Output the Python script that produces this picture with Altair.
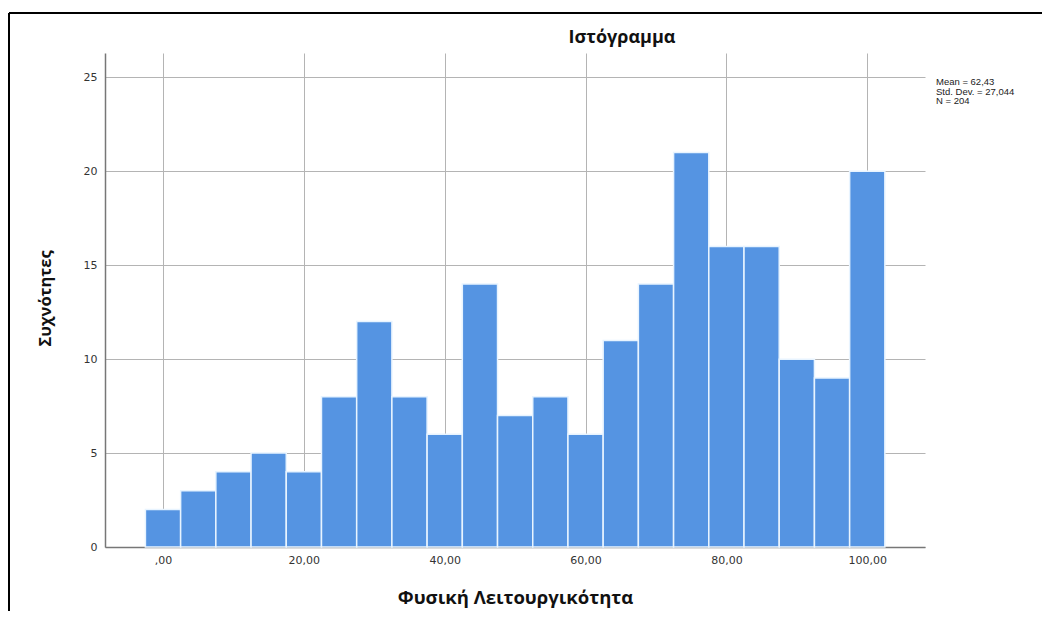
import altair as alt
import pandas as pd

# Histogram data (bin centers, counts)
bin_centers = [0, 5, 10, 15, 20, 25, 30, 35, 40, 45, 50, 55, 60, 65, 70, 75, 80, 85, 90, 95, 100]
counts = [2, 3, 4, 5, 4, 8, 12, 8, 6, 14, 7, 8, 6, 11, 14, 21, 16, 16, 10, 9, 20]
bin_width = 5

x_ticks = [0, 20, 40, 60, 80, 100]
y_ticks = [0, 5, 10, 15, 20, 25]
stats_lines = ["Mean = 62,43", "Std. Dev. = 27,044", "N = 204"]

df = pd.DataFrame({
    "start": [c - bin_width / 2 for c in bin_centers],
    "end": [c + bin_width / 2 for c in bin_centers],
    "count": counts,
    "zero": [0] * len(counts),
})

W, H = 820, 494
x_scale = alt.Scale(domain=[-8.24, 108.2], nice=False, zero=False)
y_scale = alt.Scale(domain=[0, 26.3], nice=False)

label_expr = "datum.value == 0 ? ',00' : replace(format(datum.value, '.2f'), '.', ',')"

bars = alt.Chart(df).mark_bar(
    color="#5594e2", stroke="#e8f4ff", strokeWidth=1.5
).encode(
    x=alt.X("start:Q", scale=x_scale,
            axis=alt.Axis(values=x_ticks, labelExpr=label_expr, grid=True, ticks=False,
                          domainColor="#777777", domainWidth=1.5, gridColor="#b4b4b4",
                          labelFont="DejaVu Sans", labelFontSize=11, labelColor="#333333",
                          labelPadding=7,
                          title="Φυσική Λειτουργικότητα", titleFont="Open Sans",
                          titleFontSize=18.5, titleFontWeight="bold", titleColor="#111111",
                          titleX=410, titleY=50, titleBaseline="middle", titleAnchor="middle")),
    x2="end:Q",
    y=alt.Y("count:Q", scale=y_scale,
            axis=alt.Axis(values=y_ticks, grid=True, ticks=False,
                          domainColor="#777777", domainWidth=1.5, gridColor="#b4b4b4",
                          labelFont="DejaVu Sans", labelFontSize=11, labelColor="#333333",
                          labelPadding=8,
                          title="Συχνότητες", titleFont="Open Sans", titleFontSize=16.5,
                          titleFontWeight="bold", titleColor="#111111",
                          titleAngle=270, titleX=-60, titleY=245,
                          titleBaseline="middle", titleAnchor="middle")),
    y2="zero:Q",
)

title_df = pd.DataFrame({"t": ["Ιστόγραμμα"]})
title = alt.Chart(title_df).mark_text(
    font="Open Sans", fontSize=18, fontWeight="bold", color="#111111", align="center", baseline="middle"
).encode(x=alt.value(517), y=alt.value(-15), text="t:N")

stats_df = pd.DataFrame({"t": ["\n".join(stats_lines)]})
stats = alt.Chart(stats_df).mark_text(
    font="Liberation Sans", fontSize=9.5, color="#222222", align="left", baseline="top",
    lineBreak="\n", lineHeight=9.5
).encode(x=alt.value(831), y=alt.value(24), text="t:N")

border_top = alt.Chart(title_df).mark_rule(color="#000000", strokeWidth=2).encode(
    x=alt.value(-96), x2=alt.value(960), y=alt.value(-40))
border_left = alt.Chart(title_df).mark_rule(color="#000000", strokeWidth=2).encode(
    x=alt.value(-96), y=alt.value(-40), y2=alt.value(564))

chart = alt.layer(bars, title, stats, border_top, border_left).properties(
    width=W, height=H,
    background="white",
    autosize=alt.AutoSizeParams(type="none"),
    padding={"left": 97, "top": 45, "right": 117, "bottom": 64},
).configure_view(stroke=None)

chart.save("out.html", embed_options={"renderer": "svg", "actions": False})
